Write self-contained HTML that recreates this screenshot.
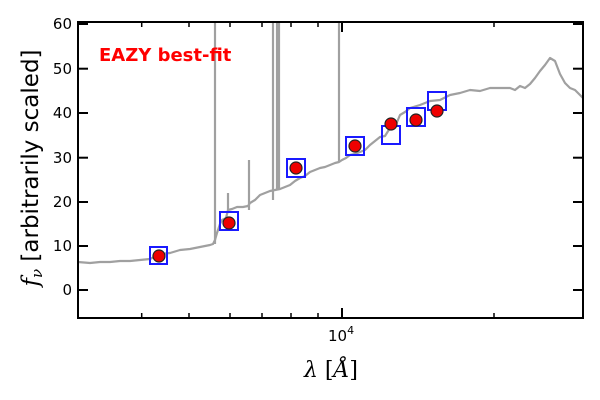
<!DOCTYPE html>
<html><head><meta charset="utf-8"><style>body{margin:0;background:#fff}svg{display:block}</style></head>
<body>
<svg width="600" height="400" viewBox="0 0 600 400" xmlns="http://www.w3.org/2000/svg" font-family="DejaVu Sans, Liberation Sans, sans-serif">
<rect width="600" height="400" fill="#fff"/>
<g fill="none" stroke="#a0a0a0" stroke-width="2.2" stroke-linejoin="round">
<polyline points="78,262 90,263 100,262 110,262 120,261 130,261 140,260 150,259 160,254 170,253 180,250 190,249 200,247 210,245 213,244 215,240 217,233 220,224 222,220 226,218 228,210 232,209 237,207 243,207 248,206 250,203 255,200 260,195 265,193 270,191 275,190 280,189 285,187 290,185 295,181 300,178 305,176 310,172 315,170 320,168 325,167 330,165 335,163 339,162 342,160 346,158 350,155 355,154 360,152 365,150 370,145 375,141 380,137 385,136 390,128 395,127 400,115 405,112 410,108 420,105 430,101 440,100 450,95 460,93 470,90 480,91 490,88 500,88 510,88 515,90 520,86 525,88 530,84 535,78 540,71 545,65 550,58 555,61 560,74 565,83 570,88 575,90 583,98"/>
<line x1="215" y1="244" x2="215" y2="22"/>
<line x1="228" y1="212" x2="228" y2="193"/>
<line x1="249" y1="210" x2="249" y2="160"/>
<line x1="273" y1="200" x2="273" y2="22"/>
<line x1="277" y1="190" x2="277" y2="22"/>
<line x1="279" y1="190" x2="279" y2="22"/>
<line x1="339" y1="162" x2="339" y2="22"/>
</g>
<g fill="none" stroke="#1a1aff" stroke-width="2">
<rect x="150" y="247" width="17" height="17"/>
<rect x="220" y="212" width="18" height="18"/>
<rect x="287" y="159" width="18" height="18"/>
<rect x="346" y="137" width="18" height="18"/>
<rect x="382" y="126" width="18" height="18"/>
<rect x="407" y="108" width="18" height="18"/>
<rect x="428" y="92" width="18" height="18"/>
</g>
<g fill="#ee0000" stroke="#222" stroke-width="1.2">
<circle cx="159" cy="256" r="6"/>
<circle cx="229" cy="223" r="6"/>
<circle cx="296" cy="168" r="6"/>
<circle cx="355" cy="146" r="6"/>
<circle cx="391" cy="124" r="6"/>
<circle cx="416" cy="120" r="6"/>
<circle cx="437" cy="111" r="6"/>
</g>
<rect x="78" y="22" width="505" height="296" fill="none" stroke="#000" stroke-width="2"/>
<g stroke="#000" stroke-width="2">
<line x1="78" y1="24" x2="88" y2="24"/><line x1="583" y1="24" x2="573" y2="24"/>
<line x1="78" y1="68.7" x2="88" y2="68.7"/><line x1="583" y1="68.7" x2="573" y2="68.7"/>
<line x1="78" y1="113" x2="88" y2="113"/><line x1="583" y1="113" x2="573" y2="113"/>
<line x1="78" y1="157.7" x2="88" y2="157.7"/><line x1="583" y1="157.7" x2="573" y2="157.7"/>
<line x1="78" y1="202" x2="88" y2="202"/><line x1="583" y1="202" x2="573" y2="202"/>
<line x1="78" y1="246" x2="88" y2="246"/><line x1="583" y1="246" x2="573" y2="246"/>
<line x1="78" y1="290" x2="88" y2="290"/><line x1="583" y1="290" x2="573" y2="290"/>
<line x1="342" y1="318" x2="342" y2="308"/><line x1="342" y1="22" x2="342" y2="32"/>
</g>
<g stroke="#000" stroke-width="1.5">
<line x1="141.7" y1="318" x2="141.7" y2="313"/><line x1="141.7" y1="22" x2="141.7" y2="27"/>
<line x1="189" y1="318" x2="189" y2="313"/><line x1="189" y1="22" x2="189" y2="27"/>
<line x1="230" y1="318" x2="230" y2="313"/><line x1="230" y1="22" x2="230" y2="27"/>
<line x1="262" y1="318" x2="262" y2="313"/><line x1="262" y1="22" x2="262" y2="27"/>
<line x1="291" y1="318" x2="291" y2="313"/><line x1="291" y1="22" x2="291" y2="27"/>
<line x1="318" y1="318" x2="318" y2="313"/><line x1="318" y1="22" x2="318" y2="27"/>
<line x1="494" y1="318" x2="494" y2="313"/><line x1="494" y1="22" x2="494" y2="27"/>
</g>
<g font-size="15" text-anchor="end" fill="#000">
<text x="72" y="29">60</text><text x="72" y="74">50</text><text x="72" y="118">40</text>
<text x="72" y="163">30</text><text x="72" y="207">20</text><text x="72" y="251">10</text><text x="72" y="295">0</text>
</g>
<text x="328" y="341" font-size="15">10<tspan font-size="11" dy="-7">4</tspan></text>
<text x="99" y="61" font-size="18" font-weight="bold" fill="#ff0000">EAZY best-fit</text>
<text x="331" y="377" font-size="22" text-anchor="middle" font-family="DejaVu Serif, serif" font-style="italic">λ <tspan font-style="normal">[</tspan>Å<tspan font-style="normal">]</tspan></text>
<text transform="translate(38,168) rotate(-90)" font-size="23" text-anchor="middle"><tspan font-family="DejaVu Serif, serif" font-style="italic">f<tspan font-size="15" dy="4">ν</tspan></tspan><tspan dy="-4"> [arbitrarily scaled]</tspan></text>
</svg>
</body></html>
